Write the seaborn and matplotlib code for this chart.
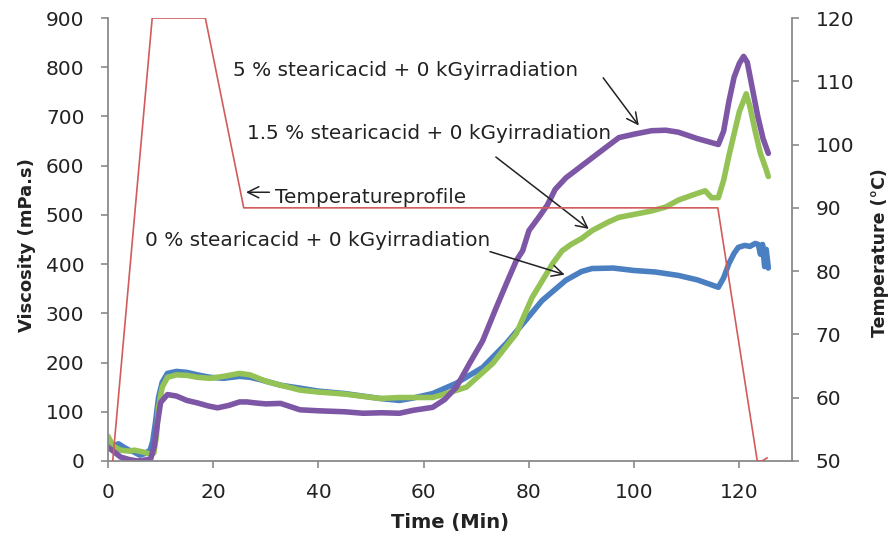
import matplotlib
matplotlib.use("Agg")
import matplotlib.pyplot as plt
import seaborn as sns
import pandas as pd

# ---------------- data ----------------
blue_x = [0, 1, 2, 3, 4, 5, 6, 7, 8, 8.5, 9, 9.6, 10.3, 11.3, 13, 15, 17, 19.4, 22, 25, 27,
          29, 32.8, 36.5, 40, 45, 51.7, 55.4, 58, 61.7, 66.2, 71.2, 75.7, 79.4, 82.5, 87,
          90, 92, 96, 100, 104, 108.4, 112, 116, 117, 118, 119, 119.8, 121, 122, 123, 123.6,
          124, 124.4, 124.8, 125.1, 125.5]
blue_y = [40, 30, 35, 28, 22, 18, 12, 15, 22, 40, 77, 129, 160, 178, 182, 180, 175, 170, 168,
          172, 170, 165, 154, 148, 142, 137, 127, 123, 128, 137, 158, 190, 239, 286, 326, 367,
          385, 391, 392, 387, 384, 377, 368, 353, 372, 401, 422, 434, 438, 436, 442, 440,
          420, 440, 395, 430, 392]

green_x = [0, 0.5, 1, 2.4, 4, 5, 6.8, 8, 8.7, 9.2, 9.6, 10.3, 11.3, 13, 15, 17, 19.4, 22, 25,
           27, 30, 32.8, 36.5, 40, 45, 51.7, 55.4, 61.7, 64, 68.1, 73.1, 77.6, 80.6, 84.5,
           86.3, 88, 90, 92, 95, 97.1, 100, 103.3, 106, 108.4, 111, 113.5, 114.7, 116, 117,
           118, 119, 120, 121.3, 122, 123, 124, 125, 125.5]
green_y = [50, 40, 30, 22, 20, 22, 18, 14, 16, 50, 109, 150, 170, 175, 174, 170, 168, 172,
           178, 175, 162, 154, 144, 140, 136, 127, 129, 129, 136, 150, 198, 259, 332, 401,
           427, 440, 452, 468, 485, 495, 501, 508, 516, 530, 540, 549, 535, 535, 570, 620,
           665, 710, 746, 720, 670, 625, 595, 578]

purple_x = [0, 1, 2.4, 4, 5.6, 7, 8.1, 8.8, 9.4, 10, 11.3, 13, 15, 17, 19, 20.8, 23, 25,
            26.4, 28, 30, 32.8, 36.5, 40, 45, 48.5, 52, 55.4, 58, 61.7, 64, 66.2, 68.7,
            71.2, 73.8, 75.7, 77.6, 78.8, 80, 82, 83.5, 85, 87, 90.8, 94, 97.1, 100, 103.3,
            106, 108.4, 112, 116, 117, 118, 119, 120, 120.8, 121.5, 122.5, 123.5, 124.5,
            125.5]
purple_y = [28, 20, 8, 3, 0, 2, 4, 30, 77, 119, 135, 132, 123, 118, 112, 108, 113, 120, 120,
            118, 116, 117, 104, 102, 100, 97, 98, 97, 103, 109, 125, 150, 198, 244, 312, 360,
            407, 427, 468, 497, 520, 552, 575, 606, 632, 657, 664, 671, 672, 668, 655, 643,
            670, 730, 780, 808, 822, 810, 755, 700, 655, 625]

temp_x = [0.9, 8.4, 18.5, 25.8, 115.9, 123.4, 124.3, 125.3]
temp_y = [50, 120, 120, 90, 90, 50, 50, 50.5]

series_labels = ["0 % stearicacid + 0 kGyirradiation",
                 "1.5 % stearicacid + 0 kGyirradiation",
                 "5 % stearicacid + 0 kGyirradiation"]
temp_label = "Temperatureprofile"

x_ticks = [0, 20, 40, 60, 80, 100, 120]
y_ticks = [0, 100, 200, 300, 400, 500, 600, 700, 800, 900]
t_ticks = [50, 60, 70, 80, 90, 100, 110, 120]

# ---------------- styling ----------------
sns.set_style("white")
plt.rcParams['font.family'] = ['DejaVu Sans']

c_blue = "#4a7fc1"
c_green = "#94c255"
c_purple = "#7d56a5"
c_red = "#d25b5b"
spine_c = "#8a8a8a"
text_c = "#222222"

fig = plt.figure(figsize=(8.94, 5.40), dpi=100)
ax = fig.add_axes([108 / 894, 1 - 461 / 540, (792 - 108) / 894, (461 - 18) / 540])
ax2 = ax.twinx()

df_b = pd.DataFrame({"t": blue_x, "v": blue_y})
df_g = pd.DataFrame({"t": green_x, "v": green_y})
df_p = pd.DataFrame({"t": purple_x, "v": purple_y})
df_t = pd.DataFrame({"t": temp_x, "T": temp_y})

lw = 4.0
sns.lineplot(data=df_b, x="t", y="v", ax=ax, color=c_blue, linewidth=lw,
             sort=False, estimator=None, solid_capstyle="round", solid_joinstyle="round")
sns.lineplot(data=df_g, x="t", y="v", ax=ax, color=c_green, linewidth=lw,
             sort=False, estimator=None, solid_capstyle="round", solid_joinstyle="round")
sns.lineplot(data=df_p, x="t", y="v", ax=ax, color=c_purple, linewidth=lw,
             sort=False, estimator=None, solid_capstyle="round", solid_joinstyle="round")
sns.lineplot(data=df_t, x="t", y="T", ax=ax2, color=c_red, linewidth=1.2,
             sort=False, estimator=None)

ax.set_xlim(0, 130)
ax.set_ylim(0, 900)
ax2.set_ylim(50, 120)

ax.set_xticks(x_ticks)
ax.set_yticks(y_ticks)
ax2.set_yticks(t_ticks)

for a in (ax, ax2):
    a.spines["top"].set_visible(False)
    for s in ("left", "right", "bottom"):
        a.spines[s].set_color(spine_c)
        a.spines[s].set_linewidth(1.3)
ax.spines["right"].set_visible(False)
ax2.spines["left"].set_visible(False)
ax2.spines["bottom"].set_visible(False)

ax.tick_params(axis="both", which="major", direction="out", length=5, width=1.2,
               color=spine_c, labelsize=14.5, labelcolor=text_c, pad=12,
               left=True, bottom=True)
ax2.tick_params(axis="y", which="major", direction="out", length=5, width=1.2,
                color=spine_c, labelsize=14.5, labelcolor=text_c, pad=12, right=True)
ax.tick_params(axis="x", pad=11)

ax.set_xlabel("Time (Min)", fontsize=14, fontweight="bold", color=text_c, labelpad=8)
ax.set_ylabel("Viscosity (mPa.s)", fontsize=13, fontweight="bold", color=text_c, labelpad=7)
ax2.set_ylabel("Temperature (°C)", fontsize=12.5, fontweight="bold", color=text_c, labelpad=12)
ax.yaxis.label.set_y(0.488)
ax2.yaxis.label.set_y(0.47)

# ---------------- annotations ----------------
arrow = dict(arrowstyle="->", color="#222222", lw=1.1, mutation_scale=20)
fs = 14.4
ax.text(23.7, 793, series_labels[2], fontsize=fs, color=text_c, va="center", ha="left")
ax.annotate("", xy=(101.2, 677), xytext=(93.8, 783), arrowprops=arrow)

ax.text(26.4, 665, series_labels[1], fontsize=fs, color=text_c, va="center", ha="left")
ax.annotate("", xy=(91.8, 468), xytext=(73.3, 621), arrowprops=arrow)

ax.text(31.7, 535, temp_label, fontsize=fs, color=text_c, va="center", ha="left")
ax.annotate("", xy=(25.7, 546), xytext=(31.2, 546), arrowprops=arrow)

ax.text(7.1, 448, series_labels[0], fontsize=fs, color=text_c, va="center", ha="left")
ax.annotate("", xy=(87.3, 377), xytext=(72.1, 427), arrowprops=arrow)

fig.savefig("out.png", dpi=100)
